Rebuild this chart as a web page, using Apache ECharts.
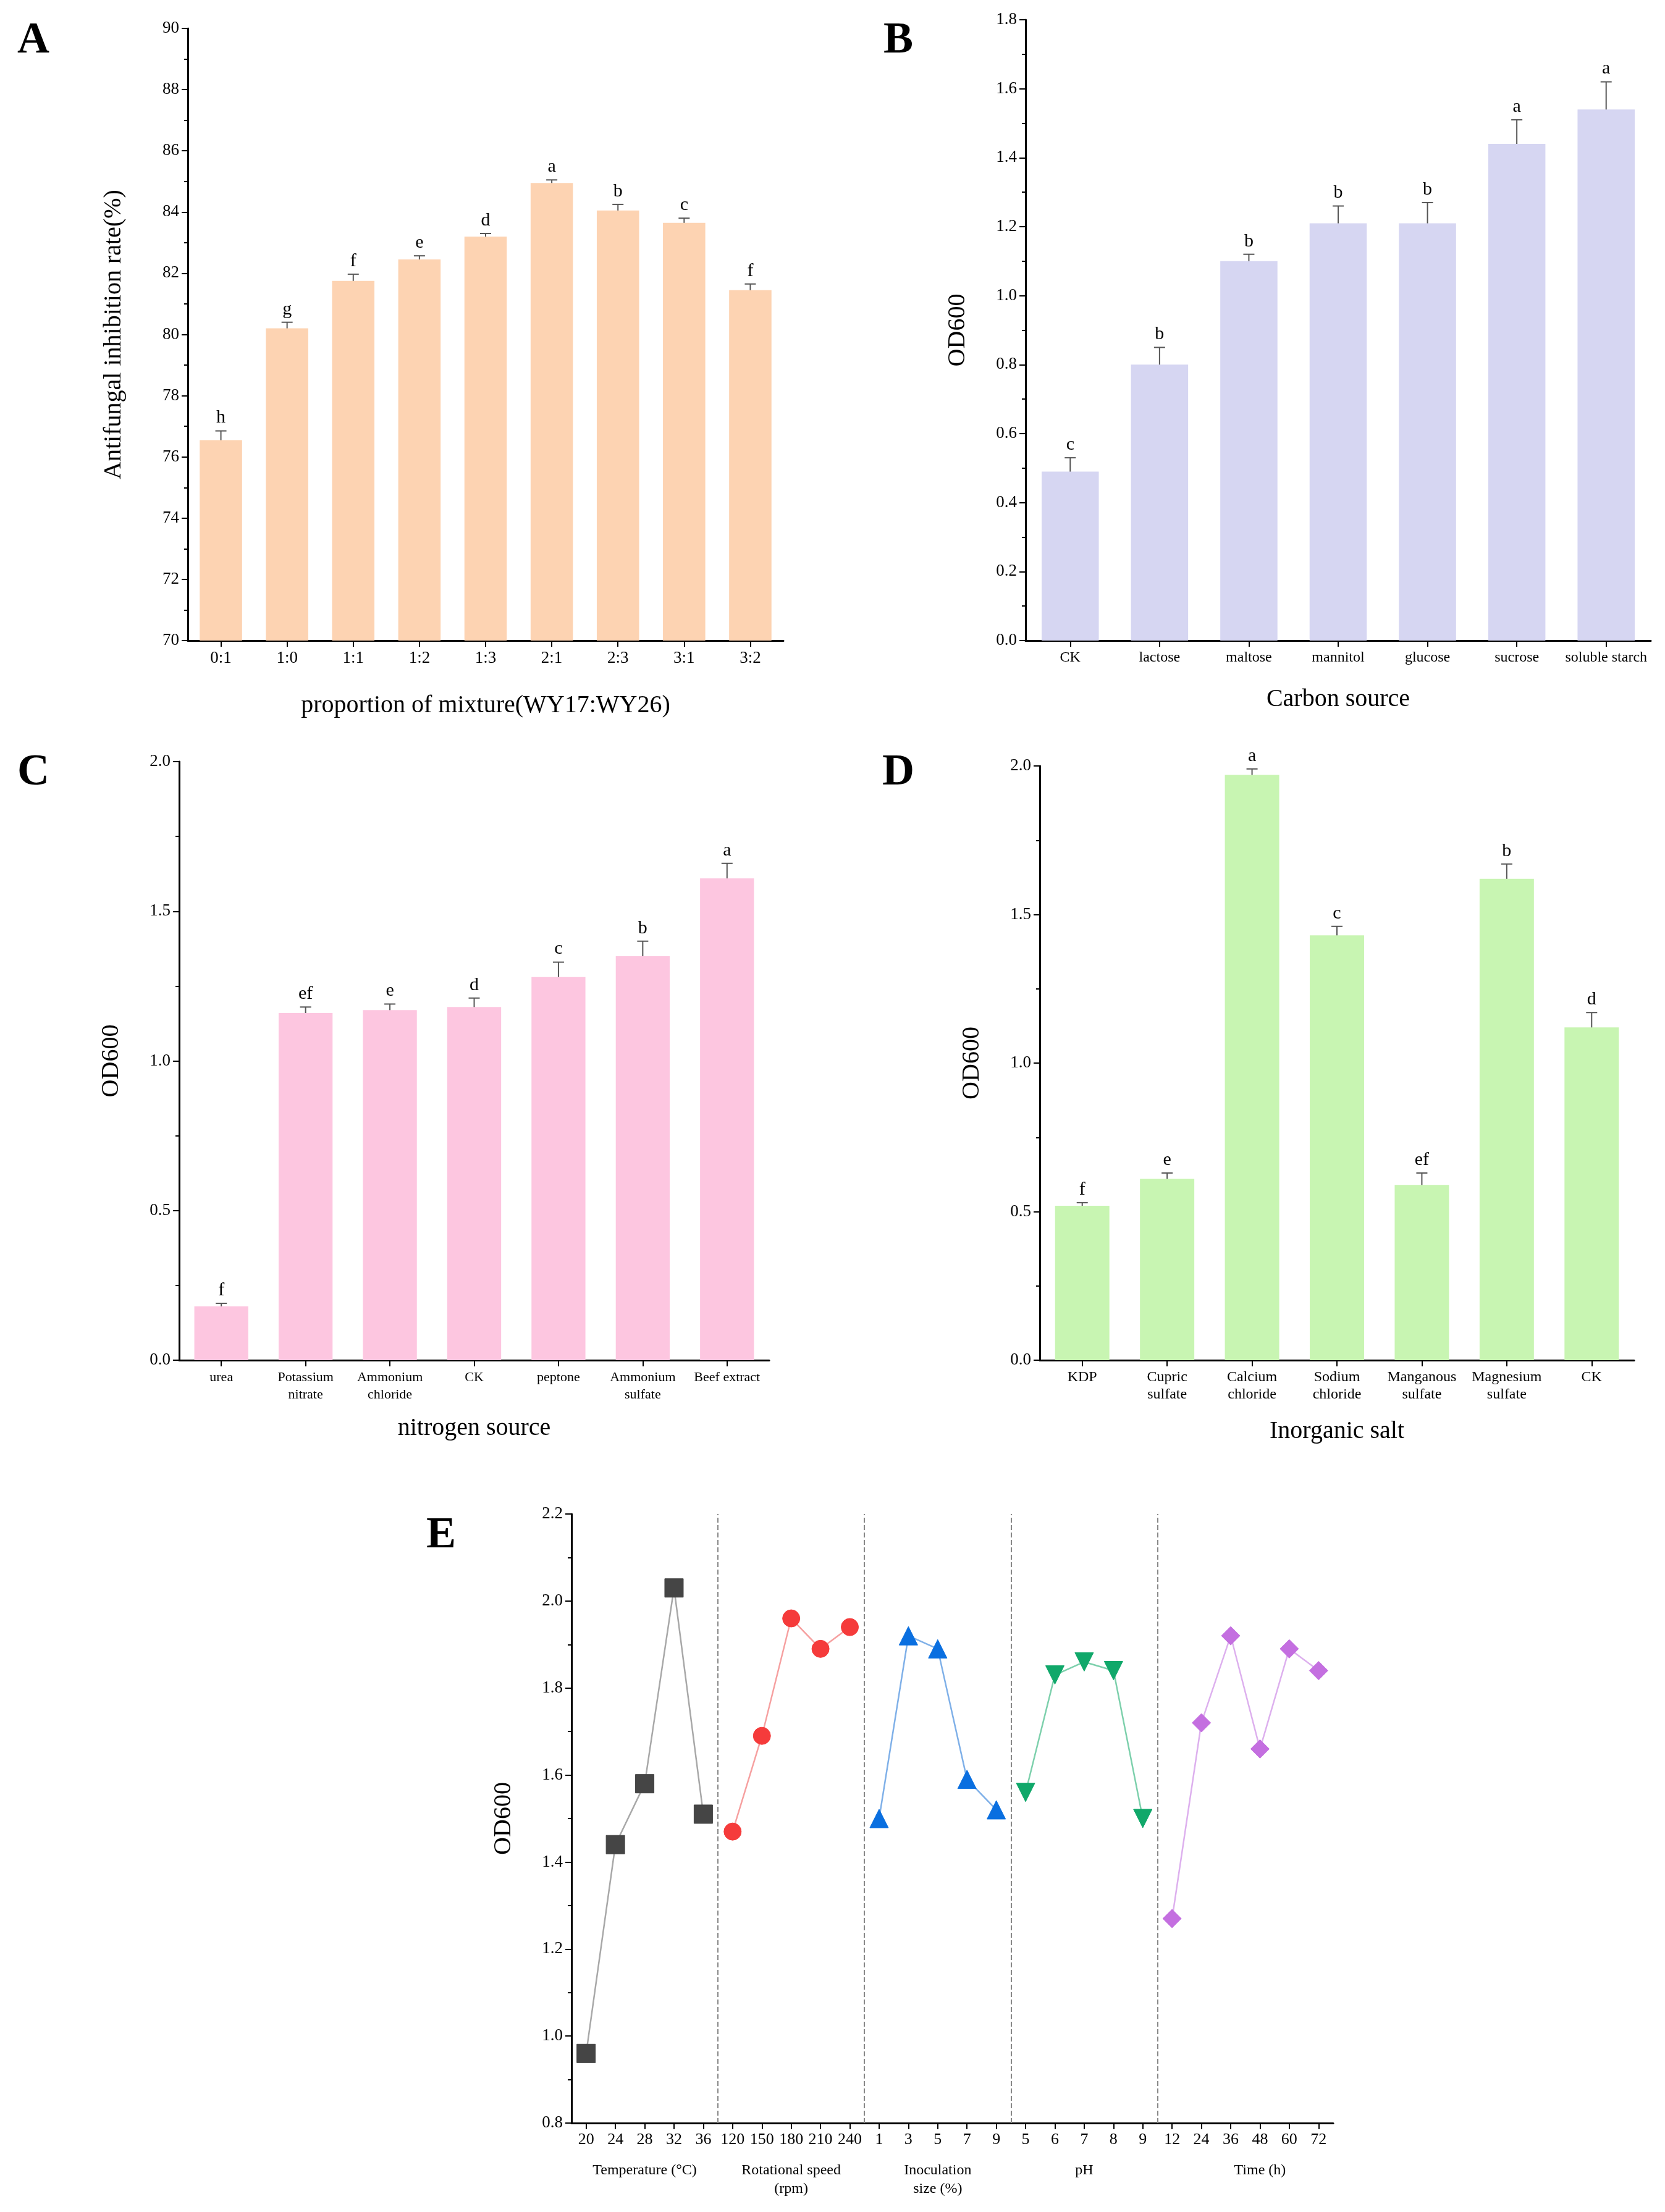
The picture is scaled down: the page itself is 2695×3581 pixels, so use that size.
<!DOCTYPE html>
<html style="height: 100%">
<head>
<meta charset="utf-8">
<script src="https://cdn.jsdelivr.net/npm/echarts@6/dist/echarts.min.js"></script>
</head>
<body style="height: 100%; margin: 0; background: #fff">
<div id="container" style="width: 2695px; height: 3581px"></div>
<script type="text/javascript">
// ---- data ----
var catsA = ['0:1', '1:0', '1:1', '1:2', '1:3', '2:1', '2:3', '3:1', '3:2'];
var valsA = [76.55, 80.2, 81.75, 82.45, 83.2, 84.95, 84.05, 83.65, 81.45];
var errA = [0.3, 0.2, 0.22, 0.12, 0.1, 0.1, 0.2, 0.15, 0.2];
var letA = ['h', 'g', 'f', 'e', 'd', 'a', 'b', 'c', 'f'];

var catsB = ['CK', 'lactose', 'maltose', 'mannitol', 'glucose', 'sucrose', 'soluble starch'];
var valsB = [0.49, 0.80, 1.10, 1.21, 1.21, 1.44, 1.54];
var errB = [0.04, 0.05, 0.02, 0.05, 0.06, 0.07, 0.08];
var letB = ['c', 'b', 'b', 'b', 'b', 'a', 'a'];

var catsC = ['urea', 'Potassium\nnitrate', 'Ammonium\nchloride', 'CK', 'peptone', 'Ammonium\nsulfate', 'Beef extract'];
var valsC = [0.18, 1.16, 1.17, 1.18, 1.28, 1.35, 1.61];
var errC = [0.01, 0.02, 0.02, 0.03, 0.05, 0.05, 0.05];
var letC = ['f', 'ef', 'e', 'd', 'c', 'b', 'a'];

var catsD = ['KDP', 'Cupric\nsulfate', 'Calcium\nchloride', 'Sodium\nchloride', 'Manganous\nsulfate', 'Magnesium\nsulfate', 'CK'];
var valsD = [0.52, 0.61, 1.97, 1.43, 0.59, 1.62, 1.12];
var errD = [0.01, 0.02, 0.02, 0.03, 0.04, 0.05, 0.05];
var letD = ['f', 'e', 'a', 'c', 'ef', 'b', 'd'];

var groupsE = ['Temperature (°C)', 'Rotational speed\n(rpm)', 'Inoculation\nsize (%)', 'pH', 'Time (h)'];
var ticksE = [['20', '24', '28', '32', '36'], ['120', '150', '180', '210', '240'], ['1', '3', '5', '7', '9'], ['5', '6', '7', '8', '9'], ['12', '24', '36', '48', '60', '72']];
var valsE = [[0.96, 1.44, 1.58, 2.03, 1.51], [1.47, 1.69, 1.96, 1.89, 1.94], [1.50, 1.92, 1.89, 1.59, 1.52], [1.56, 1.83, 1.86, 1.84, 1.50], [1.27, 1.72, 1.92, 1.66, 1.89, 1.84]];
var colE = ['#454545', '#f53b3b', '#0a6fe0', '#10a86a', '#c46fe0'];
var lineColE = ['#a8a8a8', '#f6a0a0', '#7fb0e8', '#7dd0ac', '#ddb0ee'];
var symE = ['rect', 'circle', 'triangle', 'path://M0,0 L10,0 L5,9 Z', 'diamond'];

var FONT = 'Liberation Serif';
var myChart = echarts.init(document.getElementById('container'));

var grids = [], xAxes = [], yAxes = [], series = [];

function axisStyle() {
    return {
        axisLine: { show: true, lineStyle: { color: '#000', width: 3 } },
        axisTick: { show: true, inside: false, length: 10, lineStyle: { color: '#000', width: 2 } },
        axisLabel: { color: '#000', fontFamily: FONT, fontSize: 27, margin: 14 },
        splitLine: { show: false },
        nameTextStyle: { color: '#000', fontFamily: FONT, fontSize: 40 }
    };
}

function barPanel(grid, cats, vals, errs, lets, color, y, xName, yName, catFont, catLh) {
    var gi = grids.length;
    grids.push(grid);
    var xa = axisStyle();
    xa.gridIndex = gi; xa.type = 'category'; xa.data = cats;
    xa.axisTick.alignWithLabel = true;
    xa.axisLabel.fontSize = catFont; xa.axisLabel.interval = 0; xa.axisLabel.lineHeight = catLh;
    xa.name = xName; xa.nameLocation = 'middle'; xa.nameGap = 75;
    xAxes.push(xa);
    var ya = axisStyle();
    ya.gridIndex = gi; ya.type = 'value'; ya.min = y[0]; ya.max = y[1]; ya.interval = y[2];
    ya.minorTick = { show: true, splitNumber: 2, length: 6, lineStyle: { color: '#000', width: 2 } };
    ya.axisLabel.formatter = function (v) { return y[3] ? v.toFixed(y[3]) : String(v); };
    ya.name = yName; ya.nameLocation = 'middle'; ya.nameGap = y[4];
    yAxes.push(ya);
    series.push({
        type: 'bar', xAxisIndex: gi, yAxisIndex: gi, data: vals, barWidth: '64%',
        itemStyle: { color: color }, silent: true
    });
    series.push({
        type: 'custom', xAxisIndex: gi, yAxisIndex: gi, silent: true,
        data: vals.map(function (v, i) { return [i, v, errs[i], lets[i]]; }),
        renderItem: function (params, api) {
            var x = api.value(0);
            var hi = api.coord([x, api.value(1) + api.value(2)]);
            var lo = api.coord([x, api.value(1) - api.value(2)]);
            var s = { stroke: '#555', lineWidth: 2 };
            return {
                type: 'group', children: [
                    { type: 'line', shape: { x1: hi[0], y1: hi[1], x2: lo[0], y2: lo[1] }, style: s },
                    { type: 'line', shape: { x1: hi[0] - 9, y1: hi[1], x2: hi[0] + 9, y2: hi[1] }, style: s },
                    { type: 'line', shape: { x1: lo[0] - 9, y1: lo[1], x2: lo[0] + 9, y2: lo[1] }, style: s },
                    { type: 'text', x: hi[0], y: hi[1] - 6, style: { text: lets[params.dataIndex], fill: '#000', font: '30px "' + FONT + '"', textAlign: 'center', textVerticalAlign: 'bottom' } }
                ]
            };
        }
    });
}

barPanel({ left: 304, top: 46, width: 964, height: 991 }, catsA, valsA, errA, letA, '#fdd3b2',
    [70, 90, 2, 0, 100], 'proportion of mixture(WY17:WY26)', 'Antifungal inhibition rate(%)', 27, 30);
barPanel({ left: 1660, top: 32, width: 1012, height: 1005 }, catsB, valsB, errB, letB, '#d6d6f2',
    [0, 1.8, 0.2, 1, 90], 'Carbon source', 'OD600', 24, 28);
barPanel({ left: 290, top: 1233, width: 955, height: 969 }, catsC, valsC, errC, letC, '#fdc6e0',
    [0, 2, 0.5, 1, 90], 'nitrogen source', 'OD600', 22, 28);
barPanel({ left: 1683, top: 1240, width: 962, height: 962 }, catsD, valsD, errD, letD, '#c8f5b2',
    [0, 2, 0.5, 1, 90], 'Inorganic salt', 'OD600', 24, 28);
xAxes[0].nameGap = 85; xAxes[2].nameGap = 90; xAxes[3].nameGap = 95; xAxes[1].nameGap = 75;

// ---- panel E ----
var giE = grids.length;
grids.push({ left: 925, top: 2451, width: 1233, height: 986 });
var catsE = [];
ticksE.forEach(function (t) { catsE = catsE.concat(t); });
var xE = axisStyle();
xE.gridIndex = giE; xE.type = 'category'; xE.data = catsE;
xE.axisTick.alignWithLabel = true; xE.axisLabel.interval = 0; xE.axisLabel.fontSize = 26;
var xiE = xAxes.length; xAxes.push(xE);
// group labels as a second category axis
var nE = catsE.length;
xAxes.push({
    gridIndex: giE, type: 'value', min: 0, max: nE, show: false
});
var groupEdges = [];
var acc = 0;
ticksE.forEach(function (t, k) { if (k > 0) groupEdges.push({ xAxis: acc }); acc += t.length; });
var yE = axisStyle();
yE.gridIndex = giE; yE.type = 'value'; yE.min = 0.8; yE.max = 2.2; yE.interval = 0.2;
yE.minorTick = { show: true, splitNumber: 2, length: 6, lineStyle: { color: '#000', width: 2 } };
yE.axisLabel.formatter = function (v) { return v.toFixed(1); };
yE.name = 'OD600'; yE.nameLocation = 'middle'; yE.nameGap = 90;
var yiE = yAxes.length; yAxes.push(yE);
yAxes.push({ gridIndex: giE, type: 'value', min: 0, max: 1, show: false });

var off = 0;
valsE.forEach(function (vals, k) {
    var data = [];
    for (var i = 0; i < nE; i++) data.push(null);
    vals.forEach(function (v, i) { data[off + i] = v; });
    off += vals.length;
    series.push({
        type: 'line', xAxisIndex: xiE, yAxisIndex: yiE, data: data, connectNulls: false,
        symbol: symE[k], symbolSize: k === 1 ? 28 : 30, silent: true,
        lineStyle: { color: lineColE[k], width: 2.5 },
        itemStyle: { color: colE[k], borderColor: colE[k] }
    });
});
// dashed separators
series.push({
    type: 'line', xAxisIndex: xiE + 1, yAxisIndex: yiE + 1, data: [], silent: true,
    markLine: { symbol: 'none', label: { show: false }, lineStyle: { color: '#888', type: 'dashed', width: 2 }, data: groupEdges }
});

// group names below ticks
var graphics = [];
var letters = [['A', 28, 30], ['B', 1430, 30], ['C', 28, 1215], ['D', 1428, 1215], ['E', 690, 2450]];
letters.forEach(function (l) {
    graphics.push({ type: 'text', left: l[1], top: l[2], style: { text: l[0], fill: '#000', font: 'bold 72px "' + FONT + '"' } });
});

var option = {
    backgroundColor: '#fff',
    animation: false,
    grid: grids,
    xAxis: xAxes,
    yAxis: yAxes,
    series: series,
    graphic: graphics
};
myChart.setOption(option);

// group labels placed from the axis scale
var gl = [];
var start = 0;
ticksE.forEach(function (t, k) {
    var mid = start + (t.length - 1) / 2;
    start += t.length;
    var p = myChart.convertToPixel({ xAxisIndex: xiE, yAxisIndex: yiE }, [mid, 0.8]);
    gl.push({ type: 'text', x: p[0], y: p[1] + 62, style: { text: groupsE[k], fill: '#000', font: '24px "' + FONT + '"', textAlign: 'center', lineHeight: 30 } });
});
myChart.setOption({ graphic: graphics.concat(gl) });
</script>
</body>
</html>
